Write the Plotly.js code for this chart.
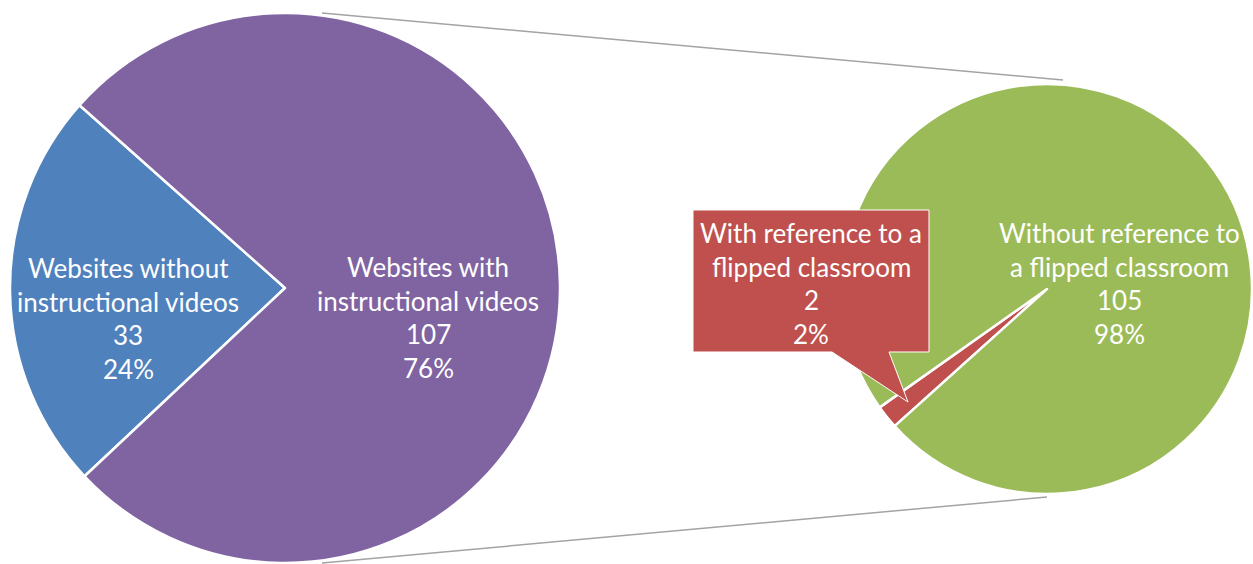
<!DOCTYPE html>
<html><head><meta charset="utf-8">
<script src="https://cdn.plot.ly/plotly-3.0.1.min.js"></script>
<style>html,body{margin:0;padding:0;background:#fff}#chart{width:1253px;height:564px}</style>
</head><body><div id="chart"></div>
<script>
// ---- data ----
const mainLabels = ["Websites without instructional videos", "Websites with instructional videos"];
const mainValues = [33, 107];
const mainColors = ["#4f81bd", "#8064a2"];
const mainLabelLines = [["Websites without", "instructional videos"], ["Websites with", "instructional videos"]];

const subLabels = ["With reference to a flipped classroom", "Without reference to a flipped classroom"];
const subValues = [2, 105];
const subColors = ["#c0504d", "#9bbb59"];
const subLabelLines = [["With reference to a", "flipped classroom"], ["Without reference to", "a flipped classroom"]];

// ---- layout helpers ----
const W = 1253, H = 564;
const px = x => x / W;
const py = y => 1 - y / H;

function pct(vals, i) {
  const t = vals.reduce((a, b) => a + b, 0);
  return Math.round(vals[i] / t * 100) + "%";
}

const FONT = "Lato";
const FS = 26;
const LINE = 33.6;

// label block anchor (centre x, first line centre y), pixels
const mainLabelPos = [[128, 268], [428, 267]];
const subLabelPos = [[811, 233], [1119, 233]];

const annotations = [];
function addLabel(lines, pos) {
  lines.forEach((t, k) => {
    annotations.push({
      xref: "paper", yref: "paper", x: px(pos[0]), y: py(pos[1] + k * LINE),
      xanchor: "center", yanchor: "middle", showarrow: false, text: t,
      font: {family: FONT, size: FS, color: "#ffffff"}
    });
  });
}
mainValues.forEach((v, i) => addLabel(mainLabelLines[i].concat([String(v), pct(mainValues, i)]), mainLabelPos[i]));
subValues.forEach((v, i) => addLabel(subLabelLines[i].concat([String(v), pct(subValues, i)]), subLabelPos[i]));

function pathFrom(pts) {
  return "M" + pts.map(p => px(p[0]).toFixed(5) + "," + py(p[1]).toFixed(5)).join(" L") + " Z";
}

const shapes = [
  {type: "line", xref: "paper", yref: "paper", x0: px(322), y0: py(13), x1: px(1063), y1: py(80),
   line: {color: "#a3a3a3", width: 1.5}, layer: "above"},
  {type: "line", xref: "paper", yref: "paper", x0: px(322), y0: py(563), x1: px(1047), y1: py(497),
   line: {color: "#a3a3a3", width: 1.5}, layer: "above"},
  {type: "path", xref: "paper", yref: "paper", layer: "above",
   path: pathFrom([[693, 210], [929, 210], [929, 352], [889, 352], [908, 402], [832, 352], [693, 352]]),
   fillcolor: "#c0504d", line: {color: "#ffffff", width: 1}}
];

const traces = [
  {type: "pie", labels: mainLabels, values: mainValues, sort: false, direction: "clockwise",
   rotation: -133.2, marker: {colors: mainColors, line: {color: "#ffffff", width: 2.5}},
   textinfo: "none", hoverinfo: "label+value+percent", showlegend: false,
   domain: {x: [px(10), px(560)], y: [py(563), py(13)]}},
  {type: "pie", labels: subLabels, values: subValues, sort: false, direction: "clockwise",
   rotation: -132, marker: {colors: subColors, line: {color: "#ffffff", width: 2.5}},
   textinfo: "none", hoverinfo: "label+value+percent", showlegend: false,
   domain: {x: [px(842), px(1252)], y: [py(494), py(84)]}}
];

const layout = {
  width: W, height: H, margin: {l: 0, r: 0, t: 0, b: 0},
  paper_bgcolor: "#ffffff", plot_bgcolor: "#ffffff", showlegend: false,
  annotations: annotations, shapes: shapes
};

Plotly.newPlot("chart", traces, layout, {displayModeBar: false, staticPlot: true});
</script>
</body></html>
